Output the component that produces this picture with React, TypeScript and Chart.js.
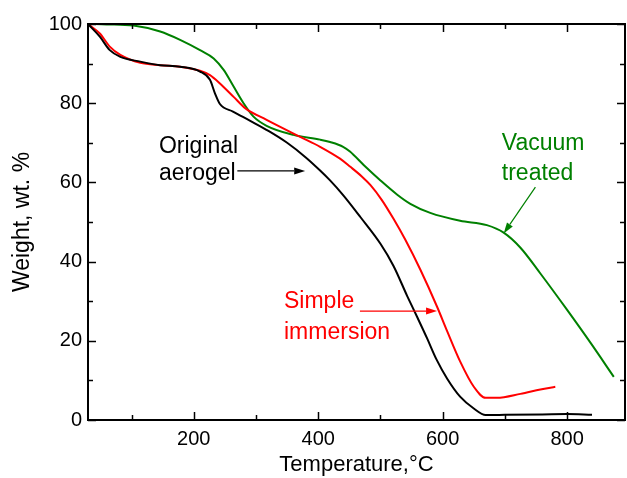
import React, { useEffect, useRef } from 'react';
import { Chart, registerables } from 'chart.js';

Chart.register(...registerables);

// ---- Data (Temperature °C, Weight wt.%) ----
const originalT = [30, 49, 65, 82, 114, 146, 178, 210, 226, 234, 242, 263, 290, 320, 350, 380, 403, 419, 440, 468, 500, 521, 543, 559, 575, 590, 607, 628, 650, 669, 700, 760, 800, 840];
const originalW = [100, 96.8, 93.4, 91.7, 90.5, 89.6, 89.2, 88, 85.9, 82.5, 79.8, 77.9, 75.6, 73, 70, 66.3, 63, 60.5, 56.8, 51.2, 44.5, 38.9, 31.3, 26, 20.6, 15.3, 10.5, 5.9, 2.9, 1.26, 1.3, 1.4, 1.5, 1.3];

const immersionT = [30, 49, 65, 82, 114, 146, 178, 210, 226, 242, 264, 283, 317, 371, 403, 435, 451, 470, 484, 502, 521, 540, 564, 591, 607, 628, 650, 669, 687, 725, 757, 781];
const immersionW = [100, 97.6, 94.3, 92.2, 90.2, 89.6, 89.2, 88.2, 87.1, 85, 81.6, 78.7, 75.8, 71.5, 69, 66, 64, 61.5, 59.3, 55.6, 50.8, 45.5, 38, 28.6, 22.5, 14.8, 8.4, 5.6, 5.6, 6.6, 7.7, 8.4];

const vacuumT = [30, 60, 103, 146, 178, 210, 232, 248, 264, 280, 296, 317, 360, 403, 419, 440, 451, 473, 500, 527, 548, 580, 628, 671, 698, 725, 757, 800, 838, 875];
const vacuumW = [100, 99.9, 99.6, 98.1, 96, 93.4, 91.3, 88.4, 84.2, 80, 76.6, 74.3, 72, 70.8, 70.2, 69, 67.8, 64.4, 60.5, 56.9, 54.6, 52.3, 50.3, 49.2, 47.3, 43.5, 37, 27.8, 19.4, 10.9];

const xRange = [30, 893];
const yRange = [0, 100];
const xMajorTicks = [200, 400, 600, 800];
const xMinorTicks = [100, 300, 500, 700];
const yMajorTicks = [0, 20, 40, 60, 80, 100];
const yMinorTicks = [10, 30, 50, 70, 90];

const seriesNames = ['Original aerogel', 'Simple immersion', 'Vacuum treated'];
const seriesColors = ['#000000', '#ff0000', '#008000'];

// Annotations: text lines (left x, baseline y in data units) and arrows (data units)
const annotationLabels = [
  { lines: ['Original', 'aerogel'], color: '#000000', x: 144, ys: [67.3, 60.6], arrowFrom: [270, 62.9], arrowTo: [379, 62.9] },
  { lines: ['Vacuum', 'treated'], color: '#008000', x: 695, ys: [68.2, 60.6], arrowFrom: [749, 58.8], arrowTo: [698, 47.1] },
  { lines: ['Simple', 'immersion'], color: '#ff0000', x: 345, ys: [28.2, 20.5], arrowFrom: [467, 27.5], arrowTo: [591, 27.5] },
];

const FONT = "'Liberation Sans', Arial, sans-serif";

const framePlugin = {
  id: 'framePlugin',
  afterDatasetsDraw(chart: any) {
    const { ctx, chartArea, scales } = chart;
    const { left, right, top, bottom } = chartArea;
    const xs = scales.x;
    const ys = scales.y;
    ctx.save();
    ctx.strokeStyle = '#000';
    ctx.lineWidth = 2;
    ctx.strokeRect(left, top, right - left, bottom - top);
    ctx.lineWidth = 1.5;
    const seg = (x1: number, y1: number, x2: number, y2: number) => {
      ctx.beginPath();
      ctx.moveTo(x1, y1);
      ctx.lineTo(x2, y2);
      ctx.stroke();
    };
    const xTick = (v: number, len: number) => {
      const p = Math.round(xs.getPixelForValue(v)) + 0.5;
      seg(p, bottom, p, bottom - len);
      seg(p, top, p, top + len);
    };
    const yTick = (v: number, len: number) => {
      const p = Math.round(ys.getPixelForValue(v)) + 0.5;
      seg(left, p, left + len, p);
      seg(right, p, right - len, p);
    };
    xMajorTicks.forEach((v) => xTick(v, 8));
    xMinorTicks.forEach((v) => xTick(v, 5));
    yMajorTicks.forEach((v) => yTick(v, 8));
    yMinorTicks.forEach((v) => yTick(v, 5));

    // annotations
    annotationLabels.forEach((a) => {
      ctx.fillStyle = a.color;
      ctx.strokeStyle = a.color;
      ctx.font = `23px ${FONT}`;
      ctx.textAlign = 'left';
      ctx.textBaseline = 'alphabetic';
      a.lines.forEach((t, i) => {
        ctx.fillText(t, xs.getPixelForValue(a.x), ys.getPixelForValue(a.ys[i]));
      });
      const x1 = xs.getPixelForValue(a.arrowFrom[0]);
      const y1 = ys.getPixelForValue(a.arrowFrom[1]);
      const x2 = xs.getPixelForValue(a.arrowTo[0]);
      const y2 = ys.getPixelForValue(a.arrowTo[1]);
      const ang = Math.atan2(y2 - y1, x2 - x1);
      const hl = 11;
      const hw = 3.5;
      ctx.lineWidth = 1.2;
      const bx = x2 - hl * Math.cos(ang);
      const by = y2 - hl * Math.sin(ang);
      seg(x1, y1, bx, by);
      ctx.beginPath();
      ctx.moveTo(x2, y2);
      ctx.lineTo(bx + hw * Math.sin(ang), by - hw * Math.cos(ang));
      ctx.lineTo(bx - hw * Math.sin(ang), by + hw * Math.cos(ang));
      ctx.closePath();
      ctx.fill();
    });
    ctx.restore();
  },
};

export default function App() {
  const canvasRef = useRef<HTMLCanvasElement | null>(null);

  useEffect(() => {
    document.body.style.margin = '0';
    const canvas = canvasRef.current;
    if (!canvas) return;
    const sets = [
      [originalT, originalW],
      [immersionT, immersionW],
      [vacuumT, vacuumW],
    ];
    const chart = new Chart(canvas, {
      type: 'line',
      data: {
        datasets: sets.map(([t, w], i) => ({
          label: seriesNames[i],
          data: t.map((tv, k) => ({ x: tv, y: w[k] })),
          borderColor: seriesColors[i],
          backgroundColor: seriesColors[i],
          borderWidth: 2,
          pointRadius: 0,
          fill: false,
          cubicInterpolationMode: 'monotone' as const,
        })),
      },
      options: {
        responsive: false,
        animation: false,
        devicePixelRatio: 1,
        layout: { padding: { top: 24, right: 2, left: 0, bottom: 0 } },
        plugins: {
          legend: { display: false },
          tooltip: { enabled: false },
        },
        scales: {
          x: {
            type: 'linear',
            min: xRange[0],
            max: xRange[1],
            afterBuildTicks: (scale: any) => {
              scale.ticks = xMajorTicks.map((v) => ({ value: v }));
            },
            afterFit: (scale: any) => {
              scale.height = 58;
            },
            grid: { display: false, drawTicks: false },
            border: { display: false },
            ticks: {
              color: '#000',
              padding: 7,
              maxRotation: 0,
              font: { family: FONT, size: 20 },
            },
            title: {
              display: true,
              text: 'Temperature,°C',
              color: '#000',
              font: { family: FONT, size: 22 },
              padding: { top: 0, bottom: 0 },
            },
          },
          y: {
            type: 'linear',
            min: yRange[0],
            max: yRange[1],
            afterBuildTicks: (scale: any) => {
              scale.ticks = yMajorTicks.map((v) => ({ value: v }));
            },
            afterFit: (scale: any) => {
              scale.width = 88;
            },
            grid: { display: false, drawTicks: false },
            border: { display: false },
            ticks: {
              color: '#000',
              padding: 6,
              font: { family: FONT, size: 20 },
            },
            title: {
              display: true,
              text: 'Weight, wt. %',
              color: '#000',
              font: { family: FONT, size: 23 },
              padding: { top: 9, bottom: 0 },
            },
          },
        },
      },
      plugins: [framePlugin],
    });
    return () => chart.destroy();
  }, []);

  return (
    <div style={{ width: 627, height: 478, background: '#fff' }}>
      <canvas ref={canvasRef} width={627} height={478} style={{ display: 'block' }} />
    </div>
  );
}
